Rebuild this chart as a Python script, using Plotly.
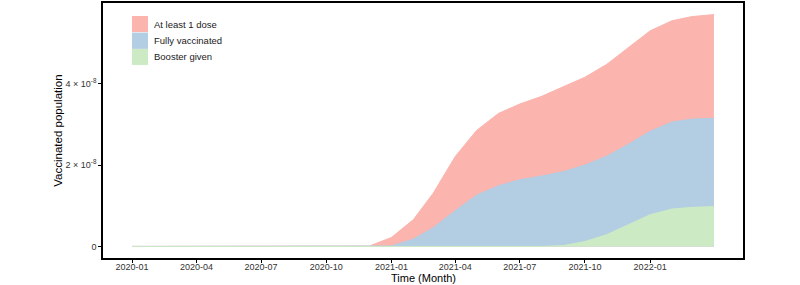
import pandas as pd
import plotly.graph_objects as go

# ---- data (values in units of 1e8 people) ----
months = pd.date_range("2020-01-01", "2022-04-01", freq="MS")
at_least_one = [0, 0, 0, 0, 0, 0, 0, 0, 0, 0, 0, 0.01,
                0.22, 0.66, 1.31, 2.21, 2.85, 3.27, 3.50, 3.69, 3.93, 4.16, 4.48, 4.89,
                5.30, 5.55, 5.65, 5.70]
fully = [0, 0, 0, 0, 0, 0, 0, 0, 0, 0, 0, 0,
         0.01, 0.18, 0.46, 0.88, 1.26, 1.49, 1.64, 1.73, 1.84, 2.00, 2.22, 2.51,
         2.83, 3.06, 3.13, 3.15]
booster = [0, 0, 0, 0, 0, 0, 0, 0, 0, 0, 0, 0,
           0, 0, 0, 0, 0, 0, 0, 0, 0.02, 0.12, 0.29, 0.54,
           0.78, 0.92, 0.96, 0.98]
series_names = ["At least 1 dose", "Fully vaccinated", "Booster given"]
series_values = [at_least_one, fully, booster]
colors = ["#FBB4AE", "#B3CDE3", "#CCEBC5"]

x_tick_vals = ["2020-01-01", "2020-04-01", "2020-07-01", "2020-10-01", "2021-01-01",
               "2021-04-01", "2021-07-01", "2021-10-01", "2022-01-01"]
x_tick_text = ["2020-01", "2020-04", "2020-07", "2020-10", "2021-01",
               "2021-04", "2021-07", "2021-10", "2022-01"]
y_tick_vals = [0, 2e8, 4e8]
y_tick_text = ["0", "2 × 10<sup>-8</sup>", "4 × 10<sup>-8</sup>"]

fig = go.Figure()
for name, vals, col in zip(series_names, series_values, colors):
    fig.add_trace(go.Scatter(
        x=months, y=[v * 1e8 for v in vals], name=name, mode="lines",
        line=dict(color=col, width=1), fill="tozeroy", fillcolor=col,
        showlegend=False))

# x range with 5% expansion like ggplot
span = months[-1] - months[0]
xr = [months[0] - span * 0.05, months[-1] + span * 0.05]
ymax = max(at_least_one) * 1e8
yr = [-0.05 * ymax, ymax * 1.05]

font_fam = "Liberation Sans, Arial, sans-serif"

# manual legend (large swatches)
rows = [(0.949, 0.886), (0.884, 0.820), (0.820, 0.757)]
for (top, bot), name, col in zip(rows, series_names, colors):
    fig.add_shape(type="rect", xref="paper", yref="paper",
                  x0=0.0453, x1=0.0703, y0=bot, y1=top,
                  fillcolor=col, line=dict(width=0))
    fig.add_annotation(xref="paper", yref="paper", x=0.076, y=(top + bot) / 2,
                       text=name, showarrow=False, xanchor="left", yanchor="middle",
                       font=dict(size=9.5, color="#1a1a1a", family=font_fam))

# axis titles
fig.add_annotation(xref="paper", yref="paper", x=0.5, y=-0.08,
                   text="Time (Month)", showarrow=False, xanchor="center", yanchor="middle",
                   font=dict(size=11, color="black", family=font_fam))
fig.add_annotation(xref="paper", yref="paper", x=-0.0715, y=0.5, textangle=-90,
                   text="Vaccinated population", showarrow=False, xanchor="center", yanchor="middle",
                   font=dict(size=11.5, color="black", family=font_fam))

fig.update_layout(
    width=800, height=285,
    margin=dict(l=103, r=57, t=3, b=27, autoexpand=False),
    paper_bgcolor="white", plot_bgcolor="white",
    font=dict(family=font_fam),
    xaxis=dict(range=xr, type="date", tickvals=x_tick_vals, ticktext=x_tick_text,
               showgrid=False, zeroline=False, automargin=False,
               showline=True, linecolor="black", linewidth=1.5, mirror=True,
               ticks="outside", ticklen=3, tickcolor="black", tickwidth=1,
               ticklabelstandoff=-4,
               tickfont=dict(size=9, color="#333333")),
    yaxis=dict(range=yr, tickvals=y_tick_vals, ticktext=y_tick_text,
               showgrid=False, zeroline=False, automargin=False,
               showline=True, linecolor="black", linewidth=1.5, mirror=True,
               ticks="outside", ticklen=3, tickcolor="black", tickwidth=1,
               tickfont=dict(size=9, color="#333333")),
)

fig.write_html("out.html", post_script="document.body.style.margin='0';",
               config={"displayModeBar": False})
